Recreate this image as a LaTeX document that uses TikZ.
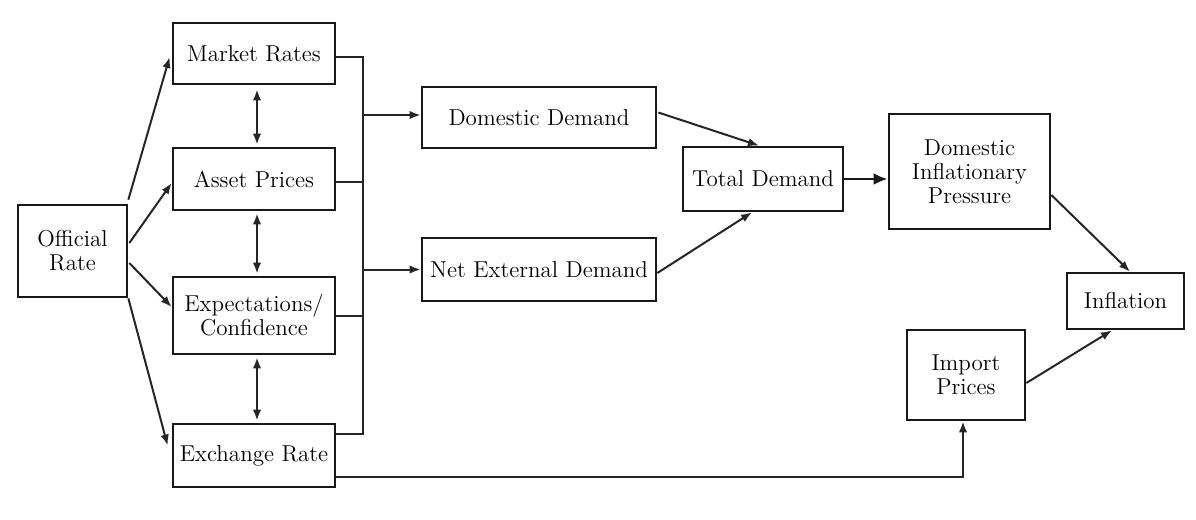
\documentclass[tikz,border=0pt]{standalone}
\usetikzlibrary{arrows.meta,calc}
\begin{document}
\begin{tikzpicture}[x=0.5pt,y=-0.5pt,
  box/.style={draw=black!90,line width=1.35pt,fill=white,inner sep=1pt,align=center,
    font=\fontsize{11.5}{12}\selectfont},
  conn/.style={draw=black!85,line width=1pt},
  arr/.style={conn,-{Latex[length=5.5pt,width=4.2pt]}},
  darr/.style={conn,{Latex[length=5.5pt,width=4.2pt]}-{Latex[length=5.5pt,width=4.2pt]}},
  bigarr/.style={draw=black!90,line width=1.4pt,-{Latex[length=7pt,width=6pt]}}]
\useasboundingbox (0,0) rectangle (1196,520);
\fill[white] (0,0) rectangle (1196,520);
% nodes
\node[box,minimum width=54.5pt,minimum height=46pt] (off) at (72.5,251) {Official\\Rate};
\node[box,minimum width=81pt,minimum height=30.5pt] (mr) at (254,53.5) {Market Rates};
\node[box,minimum width=81pt,minimum height=31pt] (ap) at (254,179) {Asset Prices};
\node[box,minimum width=81pt,minimum height=38.5pt] (ec) at (254,315.5) {Expectations/\\Confidence};
\node[box,minimum width=81pt,minimum height=31.5pt] (er) at (254,455.5) {Exchange Rate};
\node[box,minimum width=117pt,minimum height=30.5pt] (dd) at (539,117.5) {Domestic Demand};
\node[box,minimum width=117pt,minimum height=31.5pt] (ne) at (539,269.5) {Net External Demand};
\node[box,minimum width=80pt,minimum height=32pt] (td) at (763,179) {Total Demand};
\node[box,minimum width=80.5pt,minimum height=57.5pt] (dip) at (969.5,171.5) {Domestic\\Inflationary\\Pressure};
\node[box,minimum width=58.5pt,minimum height=28pt] (inf) at (1125.5,301) {Inflation};
\node[box,minimum width=59pt,minimum height=45pt] (imp) at (966,375) {Import\\Prices};
% bus
\coordinate (bt) at (363,57);
\coordinate (bb) at (363,434);
\draw[conn] ($(mr.east)+(0,3.5)$) -- (bt) -- (bb) -- (er.east |- bb);
\draw[conn] ($(ap.east)+(0,3)$) -- ($(ap.east -| bt)+(0,3)$);
\draw[conn] (ec.east) -- (ec.east -| bt);
\draw[arr] ($(dd.west -| bt)+(0,-2.5)$) -- ($(dd.west)+(0,-2.5)$);
\draw[arr] (ne.west -| bt) -- (ne.west);
% official rate arrows
\draw[arr] ($(off.north east)+(0,-4)$) -- ($(mr.west)+(-2,3.5)$);
\draw[arr] ($(off.east)+(1,-8)$) -- ($(ap.west)+(0,4)$);
\draw[arr] ($(off.east)+(1,12)$) -- ($(ec.west)+(0,-8.5)$);
\draw[arr] (off.south east) -- ($(er.west)+(-4,-10)$);
% double arrows
\draw[darr,shorten <=2pt,shorten >=1pt] ($(mr.south)+(3,0)$) -- ($(ap.north)+(3,0)$);
\draw[darr,shorten <=1pt,shorten >=1pt] ($(ap.south)+(3,0)$) -- ($(ec.north)+(3,0)$);
\draw[darr,shorten <=1pt,shorten >=1pt] ($(ec.south)+(3,0)$) -- ($(er.north)+(3,0)$);
% demand arrows
\draw[arr] ($(dd.east)+(1,-5)$) -- ($(td.north)+(-4,0)$);
\draw[arr] ($(ne.east)+(0,3.5)$) -- ($(td.south)+(-11,0)$);
\draw[bigarr] (td.east) -- (td.east -| dip.west);
\draw[arr] ($(dip.east)+(0,23.5)$) -- ($(inf.north)+(4.5,0)$);
\draw[arr] ($(imp.east)+(0,8)$) -- ($(inf.south)+(-13.5,0)$);
\draw[arr] ($(er.east)+(0,21.5)$) -| ($(imp.south)+(-3,0)$);
\end{tikzpicture}
\end{document}
